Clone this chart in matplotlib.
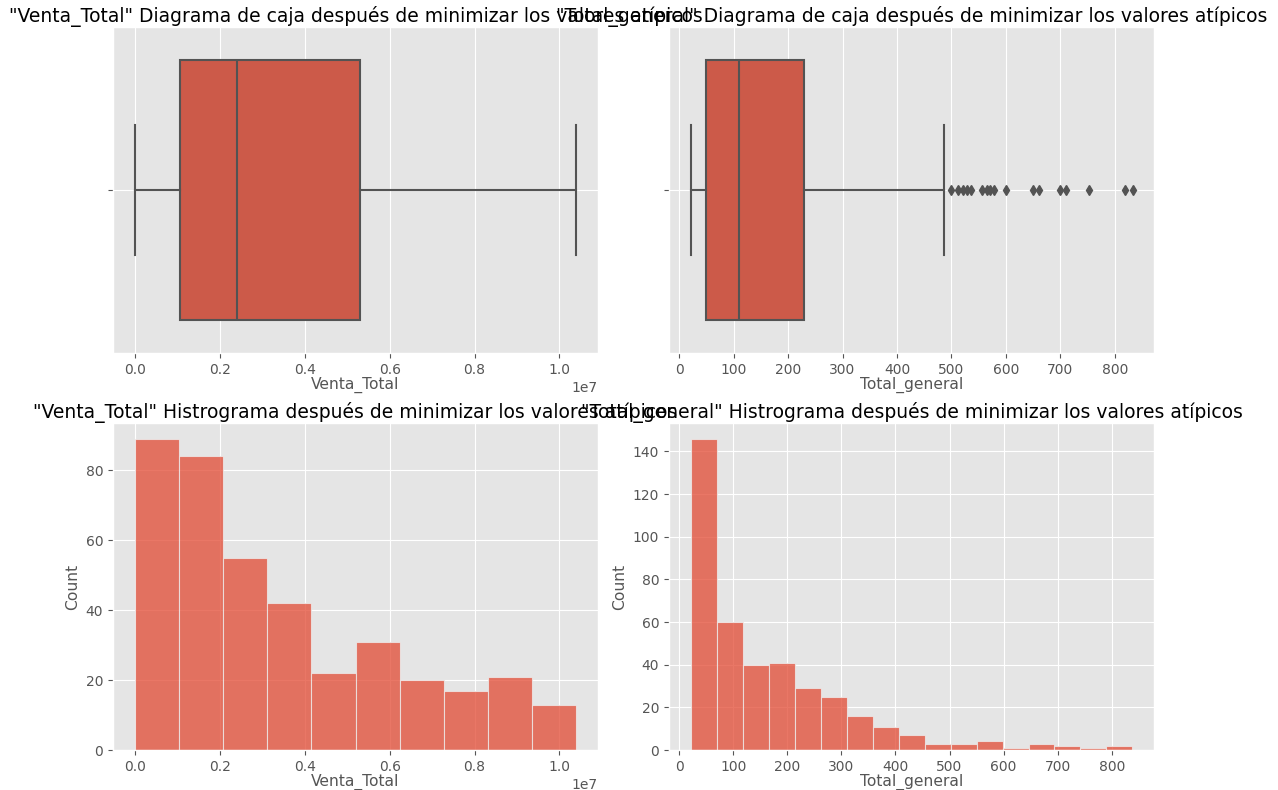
import matplotlib
matplotlib.use("Agg")
import matplotlib.pyplot as plt
import numpy as np

plt.style.use('ggplot')

# Venta_Total box summary: whisker low, Q1, median, Q3, whisker high
venta_box = [0.0, 1.06e6, 2.41e6, 5.31e6, 1.039e7]
venta_outliers = []

# Total_general box summary and outliers
total_box = [22, 50, 110, 229, 486]
total_outliers = [500, 513, 521, 528, 536, 556, 565, 570, 579, 601,
                  650, 660, 700, 710, 753, 818, 834]

# histogram bins / counts
venta_edges = [0.0, 1.039e6, 2.078e6, 3.117e6, 4.156e6, 5.195e6,
               6.234e6, 7.273e6, 8.312e6, 9.351e6, 1.039e7]
venta_counts = [89, 84, 55, 42, 22, 31, 20, 17, 21, 13]

total_edges = [22, 70, 118, 166, 214, 262, 310, 358, 406, 454, 502,
               550, 598, 646, 694, 742, 790, 838]
total_counts = [146, 60, 40, 41, 29, 25, 16, 11, 7, 3, 3, 4, 1, 3, 2, 1, 2]

box_face = '#CC5A49'
line_gray = '#535353'
hist_color = '#E24A33'

W, H = 1278, 790
fig = plt.figure(figsize=(W / 100, H / 100), dpi=100)


def pos(x0, y0, x1, y1):
    return [x0 / W, 1 - y1 / H, (x1 - x0) / W, (y1 - y0) / H]


ax1 = fig.add_axes(pos(113, 27, 598, 353))
ax2 = fig.add_axes(pos(669, 27, 1154, 353))
ax3 = fig.add_axes(pos(113, 423, 598, 750))
ax4 = fig.add_axes(pos(669, 423, 1154, 750))

TITLE_FS = 13.5
LABEL_FS = 11.2


def draw_box(ax, stats5, fliers, label, title):
    st = dict(whislo=stats5[0], q1=stats5[1], med=stats5[2], q3=stats5[3],
              whishi=stats5[4], fliers=fliers)
    ax.bxp([st], positions=[0], widths=0.8, orientation='horizontal',
           patch_artist=True, showfliers=True,
           boxprops=dict(facecolor=box_face, edgecolor=line_gray, linewidth=1.5),
           medianprops=dict(color=line_gray, linewidth=1.5),
           whiskerprops=dict(color=line_gray, linewidth=1.5),
           capprops=dict(color=line_gray, linewidth=1.5),
           flierprops=dict(marker='d', markersize=5, markerfacecolor=line_gray,
                           markeredgecolor=line_gray))
    ax.set_ylim(0.5, -0.5)
    ax.set_yticks([0])
    ax.set_yticklabels([''])
    ax.set_xlabel(label, fontsize=LABEL_FS, color='#555555', labelpad=0)
    ax.set_title(title, fontsize=TITLE_FS, pad=2)
    ax.tick_params(labelsize=10)


def draw_hist(ax, edges, counts, label, title):
    ax.hist(edges[:-1], bins=edges, weights=counts, color=hist_color,
            alpha=0.75, edgecolor='#EEEEEE', linewidth=0.8)
    ax.set_xlabel(label, fontsize=LABEL_FS, color='#555555', labelpad=0)
    ax.set_ylabel('Count', fontsize=LABEL_FS, color='#555555')
    ax.set_title(title, fontsize=TITLE_FS, pad=2)
    ax.tick_params(labelsize=10)


draw_box(ax1, venta_box, venta_outliers, 'Venta_Total',
         '"Venta_Total" Diagrama de caja después de minimizar los valores atípicos')
ax1.set_xlim(-0.052e7, 1.091e7)
draw_box(ax2, total_box, total_outliers, 'Total_general',
         '"Total_general" Diagrama de caja después de minimizar los valores atípicos')
ax2.set_xlim(-18.6, 872)

draw_hist(ax3, venta_edges, venta_counts, 'Venta_Total',
          '"Venta_Total" Histrograma después de minimizar los valores atípicos')
ax3.set_xlim(-0.052e7, 1.091e7)
draw_hist(ax4, total_edges, total_counts, 'Total_general',
          '"Total_general" Histrograma después de minimizar los valores atípicos')
ax4.set_xlim(-18.6, 878)

fig.savefig('out.png', dpi=100)
